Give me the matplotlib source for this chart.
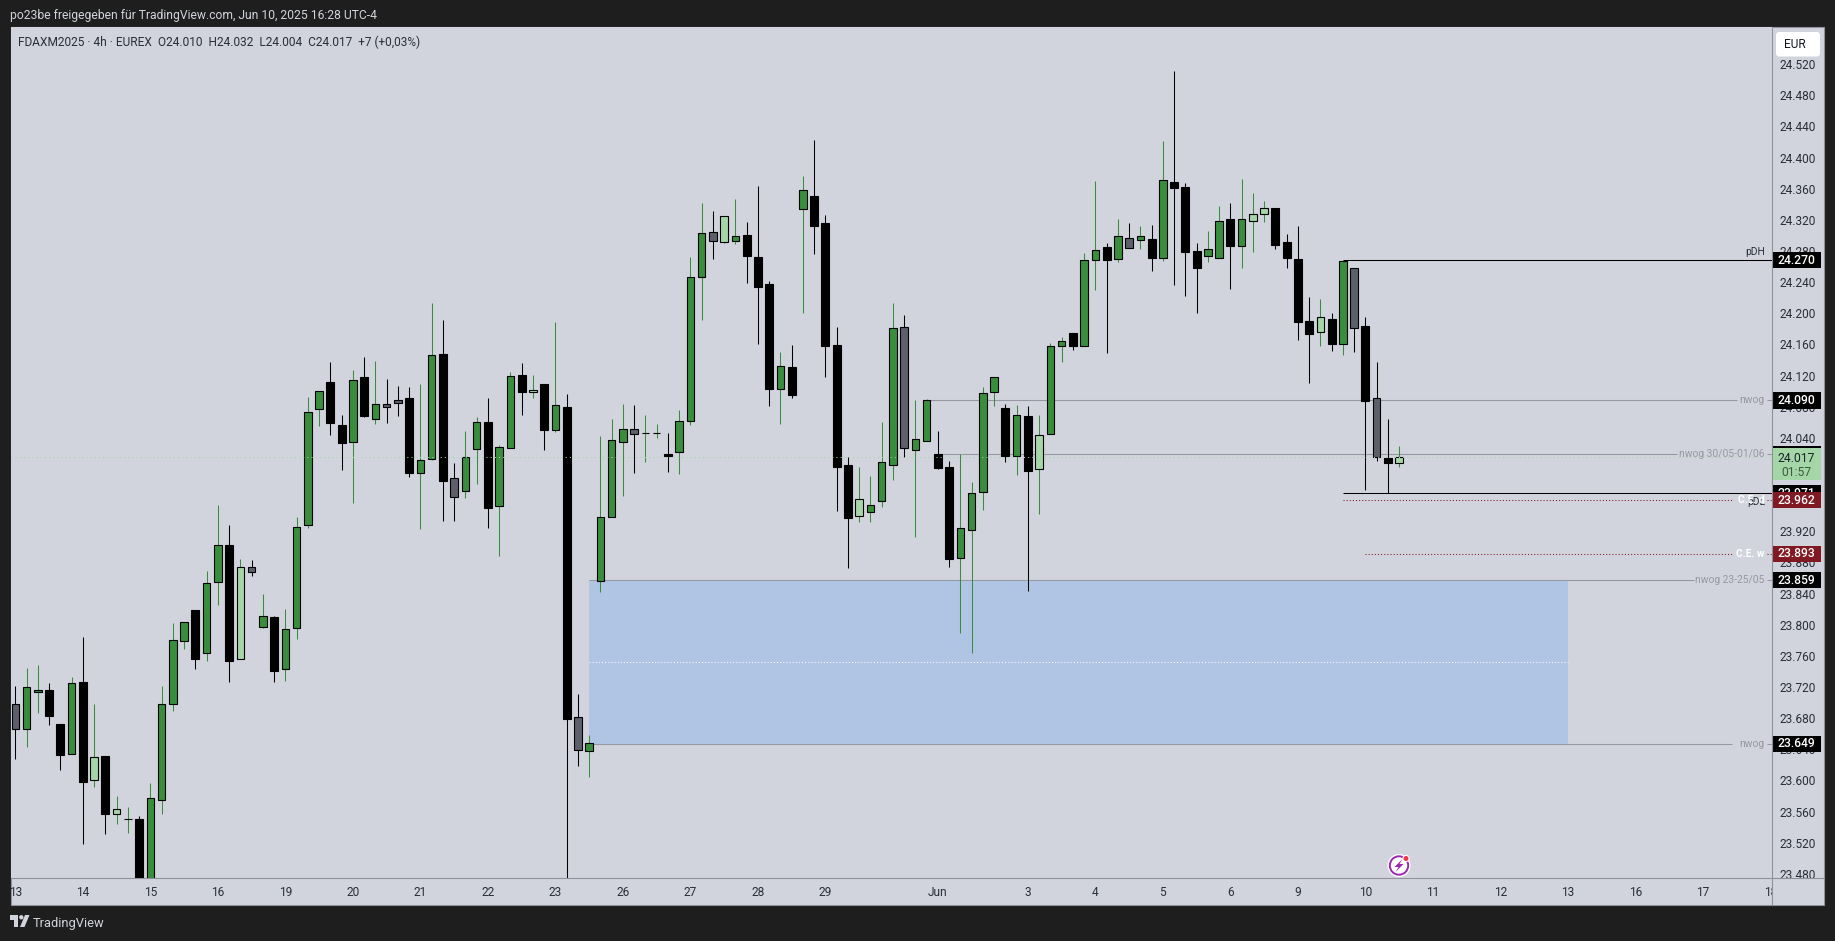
import numpy as np
import matplotlib
matplotlib.use("Agg")
import matplotlib.pyplot as plt
from matplotlib.patches import Rectangle, FancyBboxPatch, Circle, Polygon

plt.rcParams['font.family'] = ['Roboto', 'DejaVu Sans']

# 4h candles, FDAXM2025, May 13 -> Jun 10
opens = [23700, 23668, 23715, 23718, 23674, 23636, 23728, 23603, 23633, 23559, 23552, 23552, 23470, 23577, 23700,
         23781, 23821, 23765, 23857, 23904, 23758, 23876, 23799, 23812, 23745, 23798, 23930, 24079, 24114, 24058,
         24036, 24120, 24066, 24086, 24091, 24093, 23997, 24015, 24150, 23990, 23974, 24028, 24062, 23955, 24029,
         24123, 24101, 24111, 24052, 24081, 23684, 23640, 23858, 23940, 24037, 24053, 24048, 24048, 24021, 24024,
         24064, 24248, 24306, 24294, 24295, 24303, 24274, 24240, 24105, 24133, 24336, 24353, 24318, 24161, 24007,
         23941, 23947, 23961, 24007, 24184, 24027, 24038, 24021, 24004, 23887, 23924, 23973, 24101, 24080, 24019,
         24070, 24002, 24047, 24160, 24177, 24160, 24271, 24287, 24272, 24299, 24296, 24297, 24273, 24370, 24364,
         24282, 24276, 24273, 24323, 24289, 24321, 24329, 24337, 24294, 24272, 24192, 24178, 24195, 24163, 24260,
         24186, 24093, 24016, 24010]
highs = [23723, 23746, 23750, 23727, 23674, 23735, 23786, 23700, 23633, 23582, 23568, 23556, 23599, 23723, 23804,
         23805, 23821, 23871, 23956, 23930, 23886, 23885, 23841, 23813, 23822, 23940, 24094, 24102, 24139, 24071,
         24129, 24146, 24141, 24118, 24108, 24107, 24111, 24215, 24193, 24010, 24051, 24069, 24093, 24033, 24126,
         24138, 24123, 24111, 24191, 24098, 23713, 23660, 24044, 24066, 24085, 24084, 24071, 24060, 24048, 24078,
         24274, 24344, 24333, 24327, 24349, 24319, 24365, 24243, 24152, 24161, 24378, 24425, 24328, 24184, 24017,
         24004, 23993, 24062, 24215, 24200, 24091, 24092, 24051, 24012, 24021, 23985, 24107, 24120, 24085, 24084,
         24083, 24071, 24164, 24171, 24177, 24279, 24372, 24292, 24323, 24318, 24314, 24315, 24423, 24513, 24369,
         24292, 24308, 24340, 24344, 24374, 24356, 24346, 24337, 24304, 24314, 24223, 24220, 24202, 24270, 24260,
         24197, 24139, 24066, 24032]
lows = [23630, 23645, 23688, 23673, 23615, 23636, 23520, 23593, 23533, 23546, 23534, 23455, 23460, 23559, 23691,
        23771, 23745, 23755, 23827, 23728, 23758, 23864, 23798, 23728, 23730, 23784, 23926, 24057, 24046, 24001,
        23958, 24069, 24060, 24061, 24070, 23992, 23925, 24013, 23935, 23935, 23965, 23983, 23926, 23890, 24029,
        24071, 24093, 24026, 24049, 23470, 23620, 23606, 23844, 23940, 23967, 23997, 24011, 24042, 23998, 23996,
        24058, 24193, 24272, 24292, 24291, 24241, 24163, 24083, 24060, 24093, 24202, 24278, 24120, 23948, 23875,
        23934, 23934, 23953, 23988, 24017, 23915, 24038, 24002, 23876, 23791, 23765, 23949, 24083, 24011, 23994,
        23845, 23944, 24047, 24139, 24155, 24160, 24232, 24151, 24268, 24286, 24285, 24256, 24269, 24238, 24224,
        24202, 24268, 24273, 24233, 24260, 24281, 24319, 24285, 24260, 24168, 24112, 24160, 24153, 24148, 24152,
        23975, 24012, 23971, 24004]
closes = [23668, 23722, 23718, 23685, 23635, 23727, 23600, 23632, 23559, 23565, 23552, 23460, 23579, 23700, 23782,
          23805, 23758, 23856, 23904, 23755, 23876, 23870, 23813, 23742, 23797, 23928, 24075, 24102, 24061, 24035,
          24116, 24070, 24086, 24082, 24087, 23997, 24014, 24149, 23986, 23966, 24017, 24062, 23952, 24030, 24122,
          24101, 24104, 24052, 24084, 23681, 23641, 23650, 23940, 24039, 24053, 24047, 24048, 24048, 24019, 24063,
          24248, 24305, 24295, 24327, 24301, 24275, 24236, 24105, 24134, 24097, 24360, 24314, 24160, 24004, 23939,
          23963, 23956, 24011, 24183, 24029, 24040, 24090, 24003, 23886, 23926, 23971, 24100, 24120, 24019, 24071,
          24000, 24046, 24160, 24166, 24160, 24270, 24283, 24270, 24301, 24286, 24301, 24273, 24373, 24363, 24281,
          24260, 24285, 24321, 24288, 24323, 24329, 24337, 24290, 24273, 24191, 24175, 24197, 24162, 24269, 24183,
          24089, 24017, 24010, 24017]
# g green, l light green, k black, s slate
kinds = list("sggkkgklkl" "gkggggkggk" "lsgkggggkk" "gkgsskggks" "ggkggklkgk" "sggggsggkg"
             "ggslgkkkgk" "gkkkklgggs" "ggkkggggkg" "klggkggkgs" "gkgkkkggkg" "llkkkklkgs" "kskl")

day_pos = [0, 6, 12, 18, 24, 30, 36, 42, 48, 54, 60, 66, 72, 82, 90, 96, 102, 108, 114, 120, 126, 132, 138, 144, 150, 156]
day_labels = ["13", "14", "15", "16", "19", "20", "21", "22", "23", "26", "27", "28", "29", "Jun",
              "3", "4", "5", "6", "9", "10", "11", "12", "13", "16", "17", "18"]

# levels drawn on the chart
pdh = 24270
pdl = 23971
nwog_top = 24090
nwog_mid = 24021
nwog_low = 23859
nwog_bottom = 23649
ce_d = 23962
ce_w = 23893
last_price = 24017

assert len(opens) == len(highs) == len(lows) == len(closes) == len(kinds) == 124

BG = "#d1d4dc"
DARK = "#1e1e1e"
FRAME = "#8f929b"
GREY_TXT = "#9598a1"
body_col = {"g": "#388e3c", "l": "#a5d6a7", "k": "#000000", "s": "#5d606b"}
wick_col = {"g": "#388e3c", "l": "#388e3c", "k": "#000000", "s": "#000000"}

W, H = 1835, 941
fig = plt.figure(figsize=(W / 100, H / 100), dpi=100, facecolor=DARK)


def px_axes(x0, y0, x1, y1, **kw):
    return fig.add_axes([x0 / W, 1 - y1 / H, (x1 - x0) / W, (y1 - y0) / H], **kw)


# pixel-space layers for the window chrome
ax_bg = px_axes(0, 0, W, H, zorder=0)
ax_fg = px_axes(0, 0, W, H, zorder=5)
for a in (ax_bg, ax_fg):
    a.set_xlim(0, W)
    a.set_ylim(H, 0)
    a.axis("off")
ax_bg.add_patch(Rectangle((10.7, 27), 1813.5, 878, fc=BG, ec=FRAME, lw=0.8))

ax = px_axes(10.7, 27, 1771.5, 878, zorder=1, facecolor=BG)
ax_p = px_axes(1771.5, 27, 1824, 878, zorder=2, facecolor="none")

# index -> pixel: 15.4 + 11.25 * i, price -> pixel: 260.3 + (24270 - p) * 0.7785
ax.set_xlim(-0.418, 156.1)
ylim = (23476.6, 24569.7)
ax.set_ylim(*ylim)
ax_p.set_ylim(*ylim)
ax_p.set_xlim(0, 1)
ax_p.axis("off")

for s in ax.spines.values():
    s.set_visible(False)
ax.set_yticks([])
ax.set_xticks(day_pos)
ax.set_xticklabels(day_labels, fontsize=8.6, color="#2a2e39")
ax.tick_params(axis="x", length=0, pad=6)

# gap box and levels, under the candles
ax.add_patch(Rectangle((51, nwog_bottom), 87, nwog_low - nwog_bottom, fc="#b0c5e4", ec="none", zorder=1))
ax.hlines((nwog_low + nwog_bottom) / 2, 51, 138, color="white", lw=0.75, linestyles=(0, (1, 2)), zorder=2)
grey = dict(color=GREY_TXT, lw=0.75, zorder=1.5)
ax.hlines(nwog_top, 81, 153.0, **grey)
ax.hlines(nwog_top, 155.7, 156.1, **grey)
ax.hlines(nwog_mid, 82, 147.7, **grey)
ax.hlines(nwog_mid, 155.7, 156.1, **grey)
ax.hlines(nwog_low, 51, 149.2, **grey)
ax.hlines(nwog_low, 155.7, 156.1, **grey)
ax.hlines(nwog_bottom, 51, 152.6, **grey)
ax.hlines(nwog_bottom, 155.7, 156.1, **grey)
ax.hlines(pdh, 118, 156.1, color="black", lw=0.75, zorder=1.5)
ax.hlines(pdl, 118, 156.1, color="black", lw=0.75, zorder=1.5)
dots = dict(color="#801922", lw=0.75, linestyles=(0, (1, 2)), zorder=1.5)
ax.hlines(ce_d, 118, 152.7, **dots)
ax.hlines(ce_d, 155.7, 156.1, **dots)
ax.hlines(ce_w, 120, 152.6, **dots)
ax.hlines(ce_w, 155.7, 156.1, **dots)

# candles
idx = np.arange(len(opens))
ax.vlines(idx, lows, highs, colors=[wick_col[k] for k in kinds], lw=0.75, zorder=3)
body_low = np.minimum(opens, closes)
body_h = np.abs(np.array(closes) - np.array(opens))
widths = [0.72 if k == "k" else 0.66 for k in kinds]
ax.bar(idx, body_h, width=widths, bottom=body_low, color=[body_col[k] for k in kinds],
       edgecolor="black", linewidth=0.8, zorder=4)

ax.hlines(last_price, -0.418, 156.1, color="#a5d6a7", lw=0.75, linestyles=(0, (1, 3)), zorder=5)

# labels on the right hand side of the levels
lab = dict(ha="right", va="center", fontsize=7.4, zorder=6)
ax.text(155.5, pdh + 11, "pDH", color="#2a2e39", **lab)
ax.text(155.5, pdl - 12, "pDL", color="#2a2e39", **lab)
ax.text(155.5, nwog_top, "nwog", color=GREY_TXT, **lab)
ax.text(155.5, nwog_mid, "nwog 30/05-01/06", color=GREY_TXT, **lab)
ax.text(155.5, nwog_low, "nwog 23-25/05", color=GREY_TXT, **lab)
ax.text(155.5, nwog_bottom, "nwog", color=GREY_TXT, **lab)
ax.text(155.5, ce_d, "C.E. d", color="white", fontweight="bold", **lab)
ax.text(155.5, ce_w, "C.E. w", color="white", fontweight="bold", **lab)

# price scale, 24.000 and 23.960 sit fully behind the tags
for t in range(23480, 24560, 40):
    if t in (24000, 23960):
        continue
    ax_p.text(0.505, t, f"{t / 1000:.3f}", ha="center", va="center", fontsize=8.6, color="#2a2e39", zorder=2)


def price_tag(price, text, bg, fg="white", z=4):
    ax_p.add_patch(Rectangle((0.01, price - 10.5), 0.93, 21, fc=bg, ec="none", zorder=z))
    ax_p.text(0.475, price, text, ha="center", va="center", fontsize=8.7, color=fg,
              fontweight="medium", zorder=z + 0.5)


price_tag(pdh, "24.270", "black")
price_tag(nwog_top, "24.090", "black")
price_tag(nwog_low, "23.859", "black")
price_tag(nwog_bottom, "23.649", "black")
price_tag(ce_w, "23.893", "#801922")
price_tag(pdl, "23.971", "black", z=6)
price_tag(ce_d, "23.962", "#801922", z=7)

# countdown tag with the black tag peeking out above it
ax_p.add_patch(Rectangle((0.01, 24010), 0.93, 21.5, fc="black", ec="none", zorder=8))
ax_p.add_patch(Rectangle((0.01, 23988), 0.93, 41, fc="#a5d6a7", ec="none", zorder=9))
ax_p.text(0.475, last_price - 1, "24.017", ha="center", va="center", fontsize=8.7, color="#1e222d", zorder=10)
ax_p.text(0.475, 23998, "01:57", ha="center", va="center", fontsize=8.7, color="#3d5a3f", zorder=10)

# window chrome on top
ax_fg.add_patch(Rectangle((1771.5, 878.6), 52.5, 26, fc=BG, ec="none"))
ax_fg.plot([10.7, 1824], [878, 878], color=FRAME, lw=0.8)
ax_fg.plot([1771.5, 1771.5], [27, 905], color=FRAME, lw=0.8)
ax_fg.add_patch(FancyBboxPatch((1776, 32), 44, 24.5, boxstyle="round,pad=0,rounding_size=3", fc="white", ec="none"))
ax_fg.text(1795, 44.5, "EUR", ha="center", va="center", fontsize=8.6, color="#131722")

ax_fg.text(10, 15, "po23be freigegeben für TradingView.com, Jun 10, 2025 16:28 UTC-4",
           ha="left", va="center", fontsize=8.7, color="#d1d4dc")
ax_fg.text(18, 42, "FDAXM2025 · 4h · EUREX  O24.010  H24.032  L24.004  C24.017  +7 (+0,03%)",
           ha="left", va="center", fontsize=8.55, color="#2a2e39")

# TradingView logo
ax_fg.add_patch(Polygon([(10, 915), (18, 915), (18, 927), (14, 927), (14, 919.5), (10, 919.5)], fc="#d1d4dc", ec="none"))
ax_fg.add_patch(Circle((21.3, 917.3), 2.2, fc="#d1d4dc", ec="none"))
ax_fg.add_patch(Polygon([(25, 915), (29.5, 915), (24.5, 927), (20, 927)], fc="#d1d4dc", ec="none"))
ax_fg.text(33, 923, "TradingView", ha="left", va="center", fontsize=9.3, color="#d1d4dc")

# alert icon
ax_fg.add_patch(Circle((1399, 865.5), 11.5, fc="white", ec="none"))
ax_fg.add_patch(Circle((1399, 865.5), 9.2, fc="white", ec="#9c27b0", lw=1.4))
ax_fg.add_patch(Polygon([(1402.5, 859), (1394.5, 867), (1398.5, 867), (1395.5, 872), (1403.5, 864), (1399.5, 864)],
                        fc="#9c27b0", ec="none"))
ax_fg.add_patch(Circle((1406, 858.5), 3.6, fc="white", ec="none"))
ax_fg.add_patch(Circle((1406, 858.5), 2.5, fc="#f23645", ec="none"))

fig.savefig("out.png", dpi=100, facecolor=DARK)
